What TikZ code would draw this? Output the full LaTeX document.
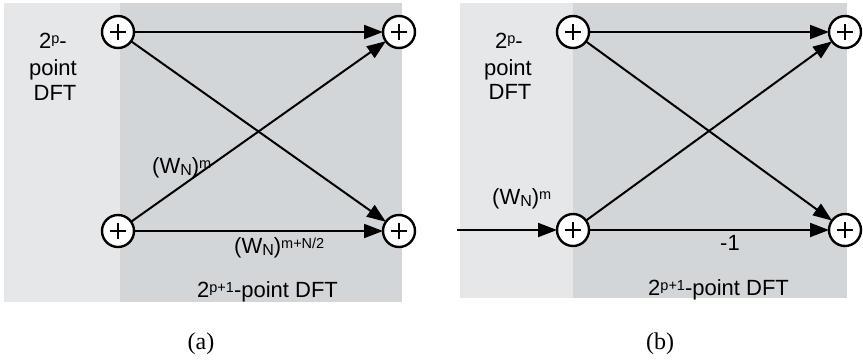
\documentclass[tikz,border=0pt]{standalone}
\usepackage{fontspec}
\setmainfont{Liberation Sans}
\newfontfamily\capfont{Liberation Serif}
\usetikzlibrary{arrows.meta}

\definecolor{outerbg}{RGB}{230,231,233}
\definecolor{innerbg}{RGB}{211,214,217}

% raised / lowered small text for exponents and indices
\newcommand{\upidx}[1]{\raisebox{0.22em}{\fontsize{14.5}{14.5}\selectfont #1}}
\newcommand{\dnidx}[1]{\raisebox{-0.13em}{\fontsize{16}{16}\selectfont #1}}

\tikzset{
  adder/.style={circle, draw, fill=white, line width=2.4pt, minimum size=32pt,
    inner sep=0pt, outer sep=0pt,
    path picture={
      \draw[line width=2.6pt] ([xshift=-8pt]path picture bounding box.center) -- ++(16pt,0);
      \draw[line width=2.6pt] ([yshift=-8pt]path picture bounding box.center) -- ++(0,16pt);
    }},
  flow/.style={line width=2pt, -{Triangle[length=19pt,width=14pt]}},
  txt/.style={inner sep=0pt, font=\fontsize{22}{26}\selectfont},
  caption/.style={inner sep=0pt, font=\capfont\fontsize{24}{28}\selectfont}
}

\begin{document}
\begin{tikzpicture}[x=1pt, y=-1pt]
\useasboundingbox (0,0) rectangle (863,360);

% ---------- panel (a) ----------
\fill[outerbg] (4,3) rectangle (120,302);
\fill[innerbg] (120,3) rectangle (402,302);

\node[txt, anchor=base] (a-t1) at (53,48) {2\upidx{p}-};
\node[txt, anchor=base] (a-t2) at (53,75) {point};
\node[txt, anchor=base] (a-t3) at (55,100) {DFT};

\node[adder] (a1) at (118,32) {};
\node[adder] (a2) at (399,32) {};
\node[adder] (a3) at (118,231) {};
\node[adder] (a4) at (399,231) {};

\draw[flow] (a1) -- (a2);
\draw[flow] (a1) -- (a4);
\draw[flow] (a3) -- (a2);
\draw[flow] (a3) -- (a4);

\node[txt, anchor=base west] (a-w1) at (152,173) {(W\dnidx{N})\upidx{m}};
\node[txt, anchor=base west] (a-w2) at (234,253) {(W\dnidx{N})\upidx{m+N/2}};
\node[txt, anchor=base west] (a-big) at (197,297) {2\upidx{p+1}-point DFT};

\node[caption] (a-cap) at (201,344) {(a)};

% ---------- panel (b) ----------
\fill[outerbg] (460,3) rectangle (573,298);
\fill[innerbg] (573,3) rectangle (847,298);

\node[txt, anchor=base] (b-t1) at (509,48) {2\upidx{p}-};
\node[txt, anchor=base] (b-t2) at (508,75) {point};
\node[txt, anchor=base] (b-t3) at (510,99) {DFT};

\node[adder] (b1) at (573,32) {};
\node[adder] (b2) at (845,32) {};
\node[adder] (b3) at (573,230) {};
\node[adder] (b4) at (845,230) {};
\coordinate (bin) at (457,230);

\draw[flow] (bin) -- (b3);
\draw[flow] (b1) -- (b2);
\draw[flow] (b1) -- (b4);
\draw[flow] (b3) -- (b2);
\draw[flow] (b3) -- (b4);

\node[txt, anchor=base west] (b-w1) at (492,204) {(W\dnidx{N})\upidx{m}};
\node[txt, anchor=base west] (b-m1) at (720,250) {-1};
\node[txt, anchor=base west] (b-big) at (648,295) {2\upidx{p+1}-point DFT};

\node[caption] (b-cap) at (660,344) {(b)};
\end{tikzpicture}
\end{document}
